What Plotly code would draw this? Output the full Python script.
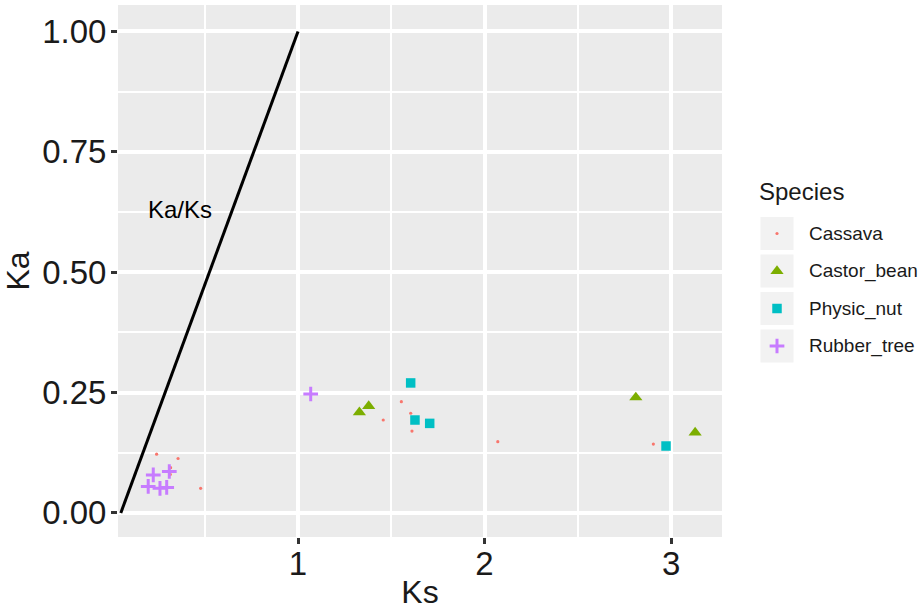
import plotly.graph_objects as go

# ---------------- data ----------------
species = ["Cassava", "Castor_bean", "Physic_nut", "Rubber_tree"]
colors = ["#F8766D", "#7CAE00", "#00BFC4", "#C77CFF"]

cassava_ks = [0.242, 0.357, 0.317, 0.315, 0.478, 1.457, 1.554, 1.604, 1.611, 2.071, 2.905]
cassava_ka = [0.122, 0.113, 0.094, 0.080, 0.051, 0.193, 0.231, 0.207, 0.170, 0.148, 0.143]

castor_ks = [1.329, 1.379, 2.811, 3.129]
castor_ka = [0.209, 0.222, 0.240, 0.167]

physic_ks = [1.604, 1.627, 1.706, 2.973]
physic_ka = [0.270, 0.193, 0.186, 0.139]

rubber_ks = [0.197, 0.224, 0.260, 0.296, 0.310, 1.068]
rubber_ka = [0.055, 0.079, 0.051, 0.053, 0.086, 0.247]

ref_ks = [0.05, 1.0]
ref_ka = [0.0, 1.0]

x_ticks = [1, 2, 3]
y_ticks = [0.0, 0.25, 0.5, 0.75, 1.0]
y_ticklabels = ["0.00", "0.25", "0.50", "0.75", "1.00"]

# ---------------- figure geometry ----------------
W, H = 922, 610
ML, MR, MT, MB = 118, 2, 5, 73
PW = W - ML - MR
PH = H - MT - MB
panel_right_px = 722
main_dom = (panel_right_px - ML) / PW
FONT = "Liberation Sans, Arial, Helvetica, sans-serif"
TXT = "#1A1A1A"

fig = go.Figure()

fig.add_trace(go.Scatter(x=ref_ks, y=ref_ka, mode="lines",
                         line=dict(color="black", width=3), showlegend=False,
                         hoverinfo="skip"))

styles = [
    dict(symbol="circle", size=3.2, color=colors[0]),
    dict(symbol="triangle-up", size=11.5, color=colors[1]),
    dict(symbol="square", size=9.5, color=colors[2]),
    dict(symbol="cross-thin", size=10.5, color=colors[3], line=dict(width=3, color=colors[3])),
]
series = [(cassava_ks, cassava_ka), (castor_ks, castor_ka),
          (physic_ks, physic_ka), (rubber_ks, rubber_ka)]

for name, (xs, ys), st in zip(species, series, styles):
    m = dict(symbol=st["symbol"], size=st["size"], color=st["color"])
    m["line"] = st.get("line", dict(width=0))
    fig.add_trace(go.Scatter(x=xs, y=ys, mode="markers", name=name,
                             marker=m, showlegend=False))

# panel background
fig.add_shape(type="rect", xref="x domain", yref="y domain", x0=0, x1=1, y0=0, y1=1,
              fillcolor="#EBEBEB", line=dict(width=0), layer="below")

# ---------------- manual legend (axes in pixel units) ----------------
leg_x0_px = 737
leg_dom0 = (leg_x0_px - ML) / PW
key_cx = 777
key_cy = [233.5, 271, 308.5, 346]
key_half = 16.5
for name, st, cy in zip(species, styles, key_cy):
    fig.add_shape(type="rect", xref="x2", yref="y2",
                  x0=key_cx - key_half, x1=key_cx + key_half,
                  y0=cy - key_half, y1=cy + key_half,
                  fillcolor="#F2F2F2", line=dict(width=0), layer="below")
    m = dict(symbol=st["symbol"], size=st["size"], color=st["color"])
    m["line"] = st.get("line", dict(width=0))
    fig.add_trace(go.Scatter(x=[key_cx], y=[cy], mode="markers", marker=m,
                             xaxis="x2", yaxis="y2", showlegend=False,
                             hoverinfo="skip"))
    fig.add_annotation(x=807, y=cy, xref="x2", yref="y2", text=name,
                       showarrow=False, xanchor="left", yanchor="middle",
                       font=dict(family=FONT, size=19, color=TXT))

fig.add_annotation(x=757, y=191, xref="x2", yref="y2", text="Species",
                   showarrow=False, xanchor="left", yanchor="middle",
                   font=dict(family=FONT, size=24, color=TXT))

fig.add_annotation(x=0.367, y=0.631, xref="x", yref="y", text="Ka/Ks",
                   showarrow=False, xanchor="center", yanchor="middle",
                   font=dict(family=FONT, size=24, color="black"))

fig.update_layout(
    width=W, height=H,
    margin=dict(l=ML, r=MR, t=MT, b=MB, autoexpand=False),
    paper_bgcolor="white",
    plot_bgcolor="rgba(0,0,0,0)",
    font=dict(family=FONT, color=TXT),
    xaxis=dict(domain=[0, main_dom], range=[0.035, 3.273], tickvals=x_ticks,
               ticktext=[str(v) for v in x_ticks],
               showgrid=True, gridcolor="white", gridwidth=3.5,
               minor=dict(tickvals=[0.5, 1.5, 2.5], showgrid=True,
                          gridcolor="white", gridwidth=1.8, ticks=""),
               zeroline=False, showline=False,
               ticks="outside", ticklen=6, tickwidth=2.5, tickcolor="#333333",
               ticklabelstandoff=-9,
               tickfont=dict(size=33, color=TXT),
               title=dict(text="Ks", font=dict(size=32, color=TXT), standoff=2),
               automargin=True, fixedrange=True),
    yaxis=dict(domain=[0, 1], range=[-0.05, 1.055], tickvals=y_ticks,
               ticktext=y_ticklabels,
               showgrid=True, gridcolor="white", gridwidth=3.5,
               minor=dict(tickvals=[0.125, 0.375, 0.625, 0.875], showgrid=True,
                          gridcolor="white", gridwidth=1.8, ticks=""),
               zeroline=False, showline=False,
               ticks="outside", ticklen=6, tickwidth=2.5, tickcolor="#333333",
               ticklabelstandoff=-2,
               tickfont=dict(size=33, color=TXT),
               title=dict(text="Ka", font=dict(size=32, color=TXT), standoff=10),
               automargin=True, fixedrange=True),
    xaxis2=dict(domain=[leg_dom0, 1], range=[leg_x0_px, W - MR], visible=False,
                anchor="y2", fixedrange=True),
    yaxis2=dict(domain=[0, 1], range=[H - MB, MT], visible=False,
                anchor="x2", fixedrange=True),
)

fig.write_html("out.html", config={"displayModeBar": False},
               post_script="document.body.style.margin='0';")
